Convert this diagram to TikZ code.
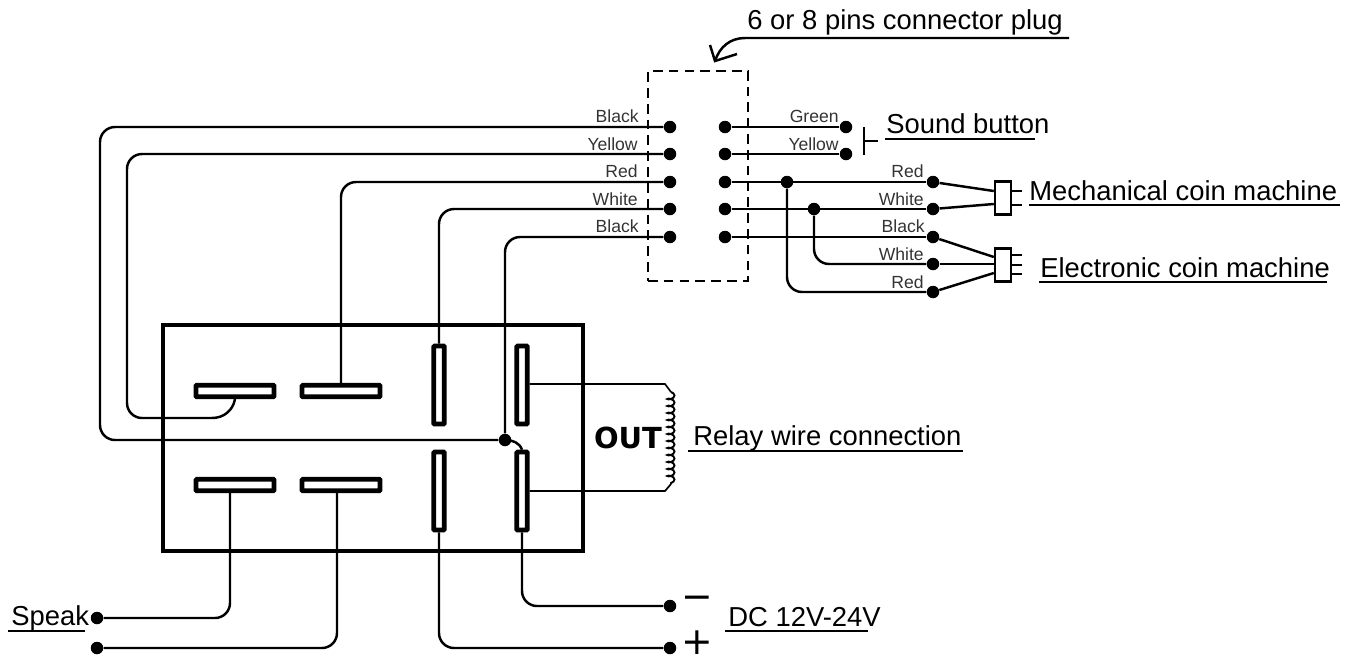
\documentclass[tikz,border=0pt]{standalone}
\usepackage{fontspec}
\usepackage{tikz}
\usetikzlibrary{decorations.pathmorphing}
\setmainfont{Liberation Sans}
\newfontfamily\outfont{DejaVu Sans}

\tikzset{
  wire/.style={line width=1.4pt, rounded corners=0.3cm},
  curvewire/.style={line width=1.4pt},
  thinwire/.style={line width=0.95pt},
  rule/.style={line width=1.3pt},
  pindot/.style={circle, fill=black, minimum size=0.25cm, inner sep=0pt},
  blade/.style={draw, line width=2.6pt, rounded corners=0.4pt, fill=white, inner sep=0pt, minimum width=#1},
  flatblade/.style={blade=1.56cm, minimum height=0.23cm},
  tallblade/.style={blade=0.21cm, minimum height=1.56cm},
  plugend/.style={blade=0.32cm, line width=1.4pt, rounded corners=0pt, minimum height=0.66cm},
  small/.style={font=\fontsize{10}{12}\selectfont, text=black!80, inner sep=0pt, anchor=base east},
  big/.style={font=\fontsize{15.6}{18}\selectfont, inner sep=0pt, anchor=base west},
  sign/.style={font=\outfont\fontsize{21.5}{24}\selectfont, inner sep=0pt, anchor=base},
}

\begin{document}
\begin{tikzpicture}[x=0.02cm, y=-0.02cm]

  \useasboundingbox (0,0) rectangle (1351,657);

  % housing and blades
  \node[draw, line width=2.4pt, minimum width=8.4cm, minimum height=4.52cm, inner sep=0pt] (relay) at (373,438) {};
  \node[flatblade] (bladeA) at (235,391) {};
  \node[flatblade] (bladeB) at (341,391) {};
  \node[flatblade] (bladeC) at (235,485) {};
  \node[flatblade] (bladeD) at (341,485) {};
  \node[tallblade] (bladeE) at (439,385) {};
  \node[tallblade] (bladeF) at (522,385) {};
  \node[tallblade] (bladeG) at (439,491) {};
  \node[tallblade] (bladeH) at (522,491) {};

  % plug
  \node[draw, dashed, line width=1.1pt, dash pattern=on 5.5pt off 3.5pt, minimum width=2cm, minimum height=4.2cm, inner sep=0pt] (plug) at (698,176) {};

  \node[pindot] (L1) at (670,127) {};
  \node[pindot] (L2) at (670,154) {};
  \node[pindot] (L3) at (670,182) {};
  \node[pindot] (L4) at (670,209) {};
  \node[pindot] (L5) at (670,237) {};
  \node[pindot] (R1) at (725,127) {};
  \node[pindot] (R2) at (725,154) {};
  \node[pindot] (R3) at (725,182) {};
  \node[pindot] (R4) at (725,209) {};
  \node[pindot] (R5) at (725,237) {};

  \node[pindot] (green) at (846,127) {};
  \node[pindot] (yellow) at (846,154) {};
  \node[pindot] (E1) at (933,182) {};
  \node[pindot] (E2) at (933,209) {};
  \node[pindot] (E3) at (933,237) {};
  \node[pindot] (E4) at (933,264) {};
  \node[pindot] (E5) at (933,292) {};
  \node[pindot] (J1) at (787,182) {};
  \node[pindot] (J2) at (814,209) {};
  \node[pindot] (J3) at (505,440) {};

  \node[pindot] (speakA) at (97,618) {};
  \node[pindot] (speakB) at (97,648) {};
  \node[pindot] (minus) at (670,606) {};
  \node[pindot] (plus) at (670,648) {};

  % coin machine plugs
  \node[plugend] (mech) at (1003,198) {};
  \node[plugend] (elec) at (1003,265) {};

  \coordinate (tee) at (864,141);
  \coordinate (coilA) at (671,392);
  \coordinate (coilB) at (671,484);
  \coordinate (loopEnd) at (212,418);

  % left side wires
  \draw[wire] (L1) -- (100,127) -- (100,440) -- (J3);
  \draw[wire] (L2) -- (127,154) -- (127,418) -- (loopEnd);
  \draw[curvewire] (loopEnd) to[out=0, in=-100] (bladeA.south);
  \draw[wire] (L3) -| (bladeB.north);
  \draw[wire] (L4) -| (bladeE.north);
  \draw[wire] (L5) -| (J3);
  \draw[curvewire] (J3.center) to[out=0, in=110] (bladeH.north);

  % lower wires
  \draw[wire] ([xshift=-0.1cm]bladeC.south) |- (speakA);
  \draw[wire] ([xshift=-0.08cm]bladeD.south) |- (speakB);
  \draw[wire] (bladeG.south) |- (plus);
  \draw[wire] (bladeH.south) |- (minus);

  % right side wires
  \draw[wire] (R1) -- (green);
  \draw[wire] (R2) -- (yellow);
  \draw[wire] (R3) -- (E1);
  \draw[wire] (R4) -- (E2);
  \draw[wire] (R5) -- (E3);
  \draw[wire] (J1) |- (E5);
  \draw[wire] (J2) |- (E4);

  \draw[wire] (E1) -- (mech.west |- 0,191);
  \draw[wire] (E2) -- (mech.west |- 0,204);
  \draw[wire] (E3) -- (elec.west |- 0,257);
  \draw[wire] (E4) -- (elec.west |- 0,264);
  \draw[wire] (E5) -- (elec.west |- 0,273);

  \draw[wire] (mech.east |- 0,191) -- (1022,191);
  \draw[wire] (mech.east |- 0,205) -- (1022,205);
  \draw[wire] (elec.east |- 0,255) -- (1022,255);
  \draw[wire] (elec.east |- 0,265) -- (1022,265);
  \draw[wire] (elec.east |- 0,274) -- (1022,274);

  % sound button
  \draw[wire] (864,127) -- (864,155);
  \draw[wire] (tee) -- (878,141);

  % coil
  \draw[thinwire] (bladeF.east |- 0,384) -- (665,384) -- (coilA);
  \draw[thinwire] (bladeH.east |- 0,491) -- (665,491) -- (coilB);
  \draw[line width=1.1pt, decorate, decoration={coil, aspect=0.5, amplitude=0.07cm, segment length=0.14cm}] (coilA) -- (coilB);

  % arrow to plug
  \coordinate (arrowTip) at (715,61);
  \draw[curvewire] (1069,38) -- (745,38) to[out=180, in=72] (arrowTip);
  \draw[curvewire] (710,45) -- (arrowTip) -- (737,54);

  % colours
  \node[small] (lblA) at (639,122) {Black};
  \node[small] (lblB) at (638,150) {Yellow};
  \node[small] (lblC) at (638,177) {Red};
  \node[small] (lblD) at (638,205) {White};
  \node[small] (lblE) at (639,232) {Black};
  \node[small] (lblF) at (839,122) {Green};
  \node[small] (lblG) at (839,150) {Yellow};
  \node[small] (lblH) at (924,177) {Red};
  \node[small] (lblI) at (924,205) {White};
  \node[small] (lblJ) at (925,232) {Black};
  \node[small] (lblK) at (924,260) {White};
  \node[small] (lblL) at (924,288) {Red};

  % names
  \node[big] (title) at (747,29) {6 or 8 pins connector plug};
  \node[big] (sound) at (886,133) {Sound button};
  \node[big] (mechname) at (1029,200) {Mechanical coin machine};
  \node[big] (elecname) at (1040,277) {Electronic coin machine};
  \node[big] (relayname) at (693,445) {Relay wire connection};
  \node[big] (speak) at (11,625) {Speak};
  \node[big] (dc) at (728,626) {DC 12V-24V};

  \draw[rule] (885,139) -- (1035,139);
  \draw[rule] (1029,205) -- (1340,205);
  \draw[rule] (1039,282) -- (1327,282);
  \draw[rule] (688,451) -- (963,451);
  \draw[rule] (8,631) -- (85,631);
  \draw[rule] (725,631) -- (868,631);

  \node[font=\outfont\bfseries\fontsize{16.5}{18}\selectfont, inner sep=0pt] (out) at (628,438) {OUT};
  \node[sign] (minussign) at (697,609) {−};
  \node[sign] (plussign) at (697,654) {+};

\end{tikzpicture}
\end{document}
